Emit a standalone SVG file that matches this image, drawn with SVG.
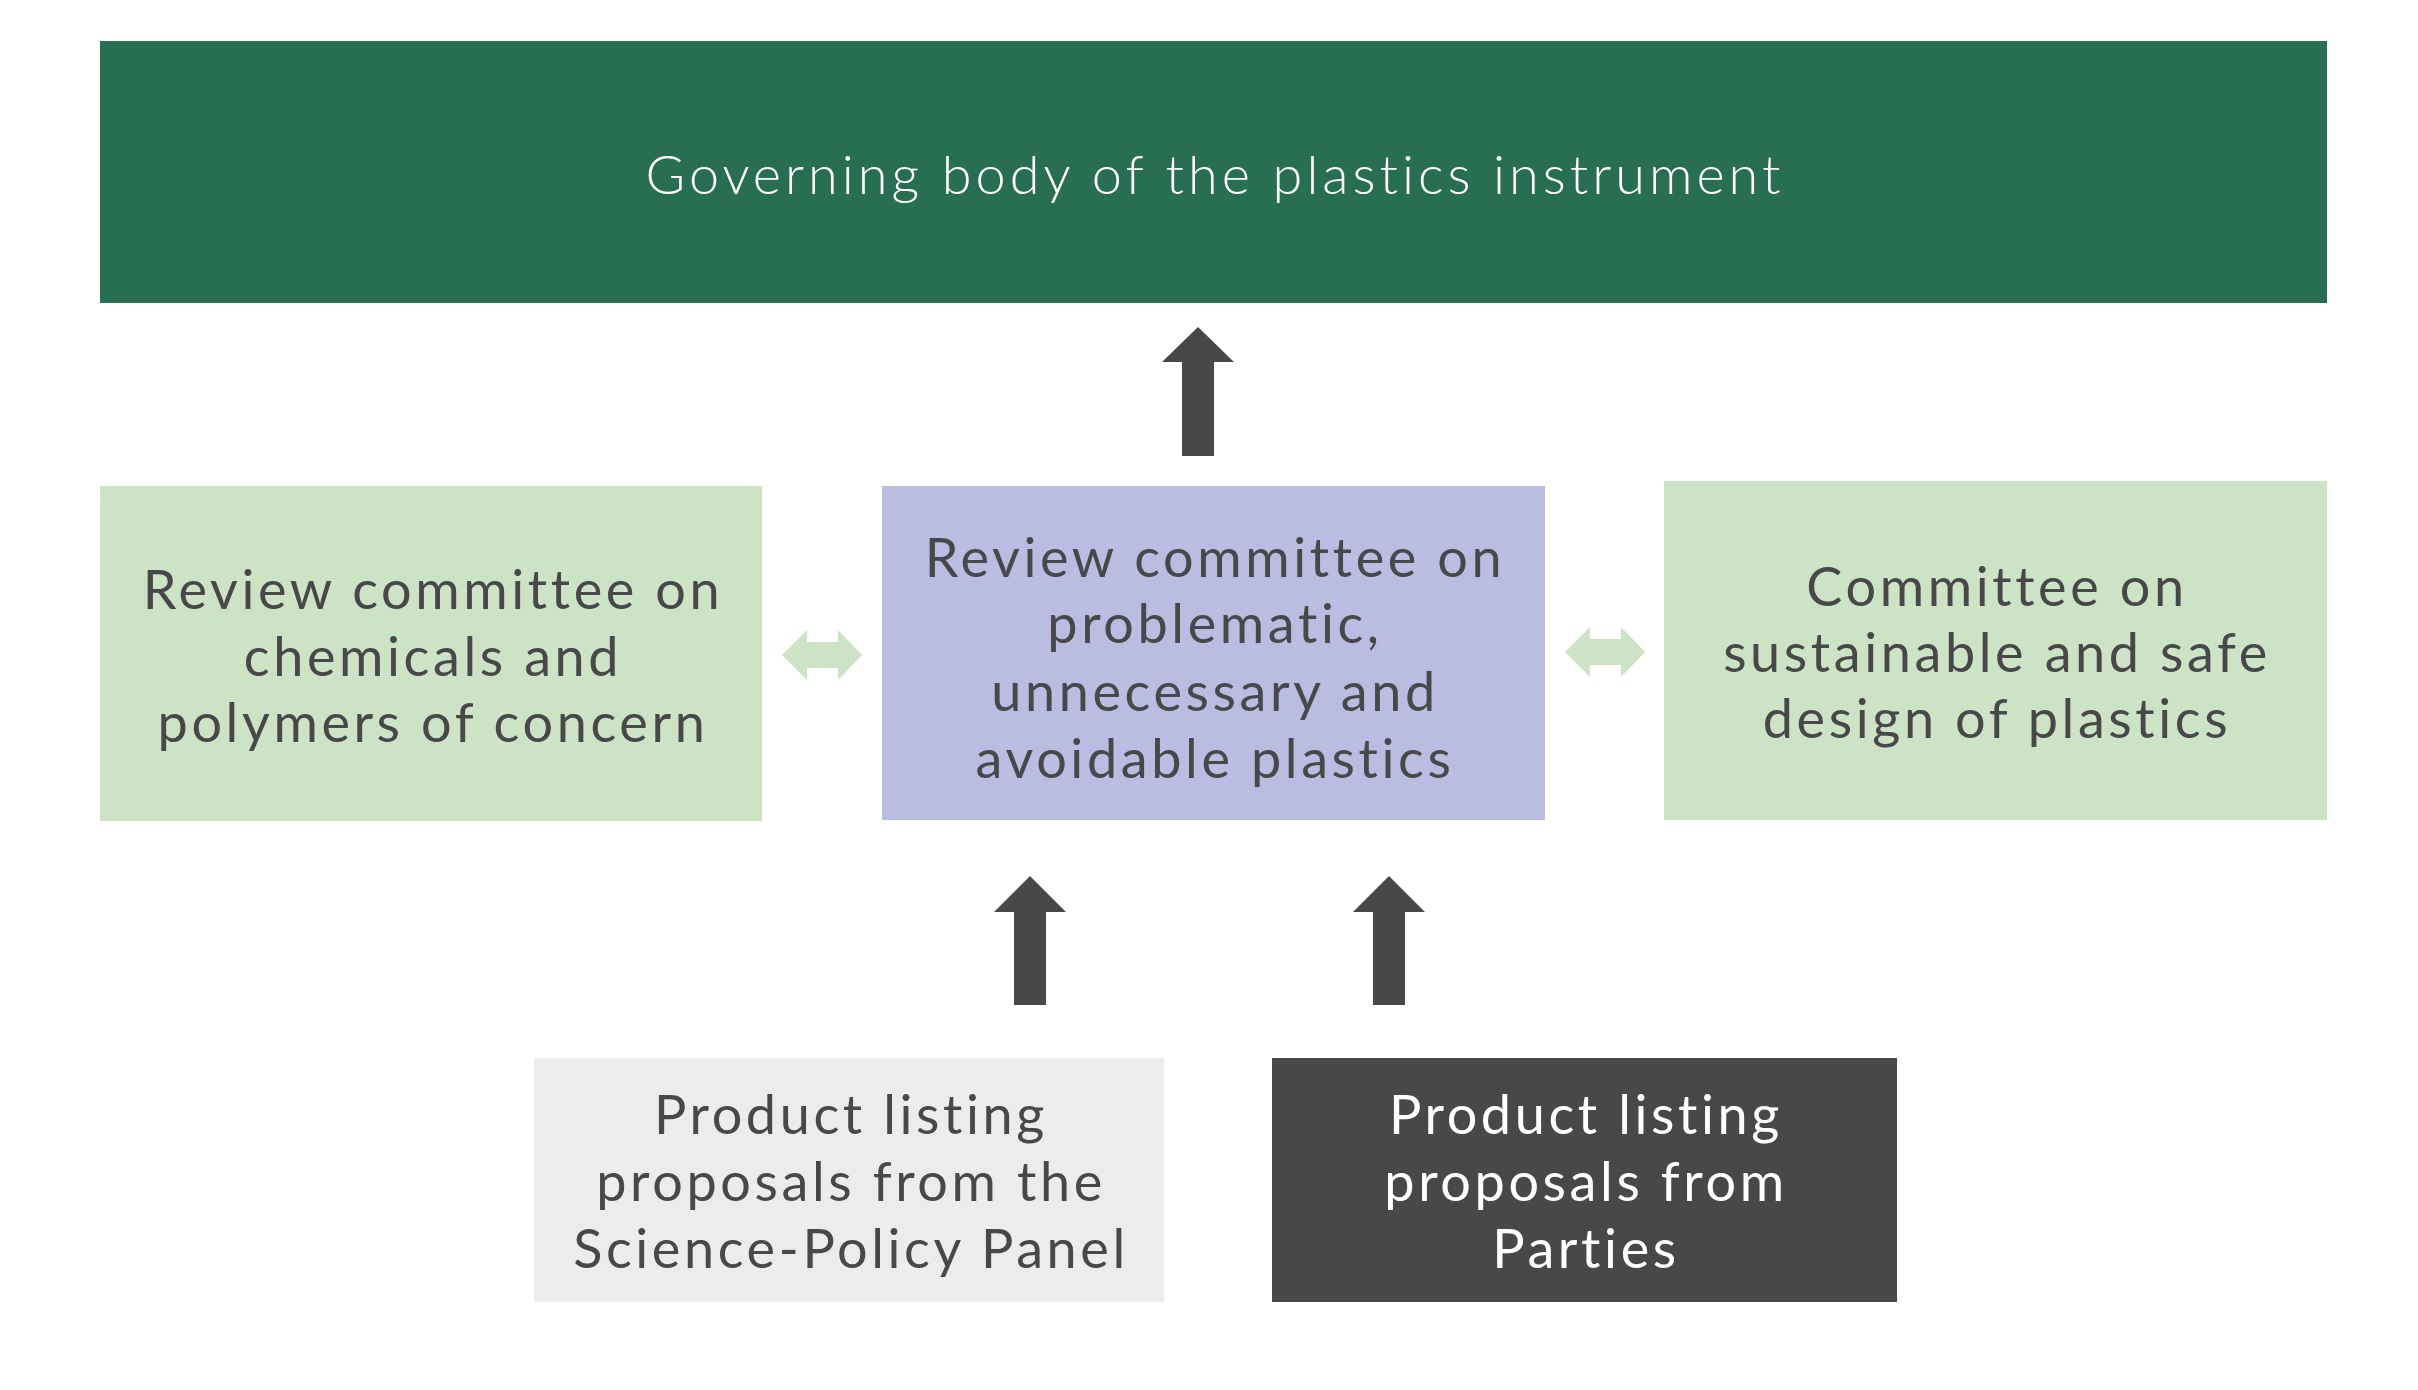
<svg xmlns="http://www.w3.org/2000/svg" width="2418" height="1390" viewBox="0 0 2418 1390">
<style>
text{font-family:Lato,"Noto Sans","Liberation Sans",sans-serif;font-size:54px;letter-spacing:3.6px;text-anchor:middle;fill:#48484a}
.w{fill:#ffffff}
.t{font-weight:300;letter-spacing:4px}
.arr{fill:#48484a}
.dbl{fill:#cde3c5}
</style>
<rect width="2418" height="1390" fill="#ffffff"/>
<g id="governing-body">
<rect x="100" y="41" width="2227" height="262" fill="#276e53"/>
<text class="w t" x="1215" y="194">Governing body of the plastics instrument</text>
</g>
<g id="chemicals-committee">
<rect x="100" y="486" width="662" height="335" fill="#cde3c5"/>
<text x="433" y="609">Review committee on</text>
<text x="433" y="676">chemicals and</text>
<text x="433" y="742">polymers of concern</text>
</g>
<g id="problematic-committee">
<rect x="882" y="486" width="663" height="334" fill="#babce1"/>
<text x="1215" y="577">Review committee on</text>
<text x="1215" y="643">problematic,</text>
<text x="1215" y="711">unnecessary and</text>
<text x="1215" y="778">avoidable plastics</text>
</g>
<g id="design-committee">
<rect x="1664" y="481" width="663" height="339" fill="#cde3c5"/>
<text x="1997" y="606">Committee on</text>
<text x="1997" y="672">sustainable and safe</text>
<text x="1997" y="738">design of plastics</text>
</g>
<g id="spp-proposals">
<rect x="534" y="1058" width="630" height="244" fill="#ebecee"/>
<text x="851" y="1134">Product listing</text>
<text x="851" y="1201">proposals from the</text>
<text x="851" y="1268">Science-Policy Panel</text>
</g>
<g id="parties-proposals">
<rect x="1272" y="1058" width="625" height="244" fill="#48484a"/>
<text class="w" x="1586" y="1134">Product listing</text>
<text class="w" x="1586" y="1201">proposals from</text>
<text class="w" x="1586" y="1268">Parties</text>
</g>
<g id="connectors">
<polygon class="arr" points="1198,327 1234,362 1214,362 1214,456 1182,456 1182,362 1162,362"/>
<polygon class="arr" points="1030,876 1066,912 1046,912 1046,1005 1014,1005 1014,912 994,912"/>
<polygon class="arr" points="1389,876 1425,912 1405,912 1405,1005 1373,1005 1373,912 1353,912"/>
<polygon class="dbl" points="782,655 807,630 807,642 838,642 838,630 862,655 838,680 838,668 807,668 807,680"/>
<polygon class="dbl" points="1565,652 1590,627 1590,639 1621,639 1621,627 1645,652 1621,677 1621,665 1590,665 1590,677"/>
</g>
</svg>
